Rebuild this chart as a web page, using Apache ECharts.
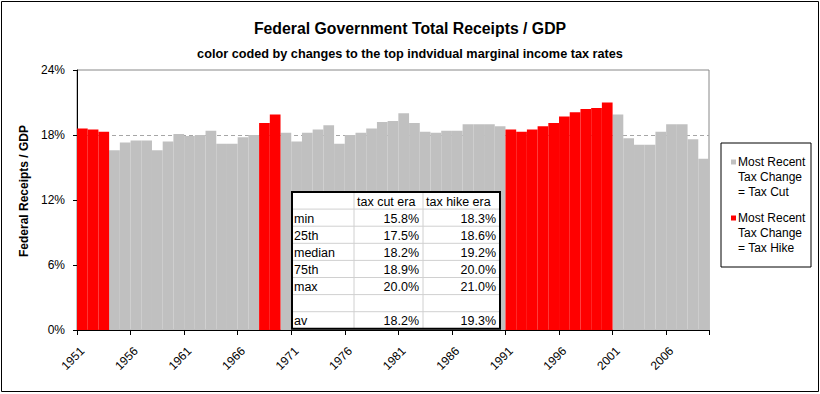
<!DOCTYPE html>
<html><head><meta charset="utf-8">
<script src="https://cdn.jsdelivr.net/npm/echarts@6/dist/echarts.min.js"></script>
<style>html,body{margin:0;padding:0;background:#fff}#c{width:820px;height:394px}</style>
</head><body><div id="c"></div>
<script>
const years = ['1951','1952','1953','1954','1955','1956','1957','1958','1959','1960',
  '1961','1962','1963','1964','1965','1966','1967','1968','1969','1970',
  '1971','1972','1973','1974','1975','1976','1977','1978','1979','1980',
  '1981','1982','1983','1984','1985','1986','1987','1988','1989','1990',
  '1991','1992','1993','1994','1995','1996','1997','1998','1999','2000',
  '2001','2002','2003','2004','2005','2006','2007','2008','2009'];
const receipts = [18.6,18.5,18.3,16.6,17.3,17.5,17.5,16.6,17.4,18.1,
  17.9,18.0,18.4,17.2,17.2,17.8,18.0,19.1,19.9,18.2,
  17.4,18.2,18.5,18.9,17.2,18.0,18.2,18.6,19.2,19.3,
  20.0,19.1,18.3,18.2,18.4,18.4,19.0,19.0,19.0,18.8,
  18.5,18.3,18.5,18.8,19.1,19.7,20.1,20.4,20.5,21.0,
  19.9,17.7,17.1,17.1,18.3,19.0,19.0,17.6,15.8];
// H = most recent tax change was a hike, C = a cut
const era = ['H','H','H','C','C','C','C','C','C','C',
  'C','C','C','C','C','C','C','H','H','C',
  'C','C','C','C','C','C','C','C','C','C',
  'C','C','C','C','C','C','C','C','C','C',
  'H','H','H','H','H','H','H','H','H','H',
  'C','C','C','C','C','C','C','C','C'];
const avgLine = 18;
const yTicks = [0, 6, 12, 18, 24];
const seriesNames = ['Most Recent\nTax Change\n= Tax Cut', 'Most Recent\nTax Change\n= Tax Hike'];
const tableHeader = ['', 'tax cut era', 'tax hike era'];
const tableLabels = ['min', '25th', 'median', '75th', 'max', '', 'av'];
const tableCut = ['15.8%', '17.5%', '18.2%', '18.9%', '20.0%', '', '18.2%'];
const tableHike = ['18.3%', '18.6%', '19.2%', '20.0%', '21.0%', '', '19.3%'];

const RED = '#ff0000', GREY = '#c0c0c0';
const FONT = "'Liberation Sans', Arial, sans-serif";

const chart = echarts.init(document.getElementById('c'), null, {renderer: 'svg'});

const Z = 50;
// table graphic
const tX = 292, tY = 192, colW = [62, 69, 77], rowH = 17.1;
const tW = colW[0] + colW[1] + colW[2], tH = rowH * 8;
const tableEls = [];
tableEls.push({type: 'rect', z: Z, shape: {x: tX, y: tY, width: tW, height: tH}, style: {fill: '#fff'}});
for (let r = 1; r < 8; r++) {
  tableEls.push({type: 'line', z: Z + 1, shape: {x1: tX, y1: tY + r * rowH, x2: tX + tW, y2: tY + r * rowH}, style: {stroke: '#d0d0d0', lineWidth: 1}});
}
tableEls.push({type: 'line', z: Z + 1, shape: {x1: tX + colW[0], y1: tY, x2: tX + colW[0], y2: tY + tH}, style: {stroke: '#d0d0d0', lineWidth: 1}});
tableEls.push({type: 'line', z: Z + 1, shape: {x1: tX + colW[0] + colW[1], y1: tY, x2: tX + colW[0] + colW[1], y2: tY + tH}, style: {stroke: '#d0d0d0', lineWidth: 1}});
const cellFont = {fontFamily: FONT, fontSize: 12.5, fill: '#000', verticalAlign: 'middle'};
function cell(text, x, y, align) {
  return {type: 'text', z: Z + 2, style: Object.assign({text: text, x: x, y: y, align: align}, cellFont)};
}
tableEls.push(cell(tableHeader[1], tX + colW[0] + 3, tY + rowH / 2 + 1, 'left'));
tableEls.push(cell(tableHeader[2], tX + colW[0] + colW[1] + 3, tY + rowH / 2 + 1, 'left'));
tableLabels.forEach((lab, i) => {
  const cy = tY + (i + 1.5) * rowH + 1;
  if (lab) tableEls.push(cell(lab, tX + 2, cy, 'left'));
  if (tableCut[i]) tableEls.push(cell(tableCut[i], tX + colW[0] + colW[1] - 4, cy, 'right'));
  if (tableHike[i]) tableEls.push(cell(tableHike[i], tX + tW - 4, cy, 'right'));
});
tableEls.push({type: 'rect', z: Z + 3, shape: {x: tX, y: tY, width: tW, height: tH}, style: {fill: 'none', stroke: '#000', lineWidth: 2}});

// legend graphic
const lgX = 721, lgY = 143;
const legendEls = [
  {type: 'rect', z: Z, shape: {x: lgX, y: lgY, width: 90, height: 124}, style: {fill: '#fff', stroke: '#000', lineWidth: 1}}
];
[GREY, RED].forEach((col, k) => {
  const baseY = lgY + 19 + k * 56;
  legendEls.push({type: 'rect', z: Z + 1, shape: {x: lgX + 10, y: baseY - 2.5, width: 5, height: 5}, style: {fill: col}});
  legendEls.push({type: 'text', z: Z + 1, style: {text: seriesNames[k], x: lgX + 17, y: baseY - 8, align: 'left', verticalAlign: 'top',
    fontFamily: FONT, fontSize: 12, lineHeight: 15.3, fill: '#000'}});
});

chart.setOption({
  animation: false,
  backgroundColor: '#fff',
  title: [
    {text: 'Federal Government Total Receipts / GDP', left: 'center', top: 15,
      textStyle: {fontFamily: FONT, fontWeight: 'bold', fontSize: 15.8, color: '#000'}},
    {text: 'color coded by changes to the top indvidual marginal income tax rates', left: 'center', top: 42,
      textStyle: {fontFamily: FONT, fontWeight: 'bold', fontSize: 12.7, color: '#000'}}
  ],
  legend: {show: false, data: seriesNames},
  grid: {left: 77, right: 111, top: 70, bottom: 64, show: true, borderColor: '#888', borderWidth: 1, backgroundColor: '#fff'},
  xAxis: {
    type: 'category', data: years, boundaryGap: true,
    axisLine: {lineStyle: {color: '#000', width: 1}},
    axisTick: {show: true, interval: 4, length: 5, inside: false, lineStyle: {color: '#000'}},
    axisLabel: {interval: 4, rotate: 45, margin: 19, fontFamily: FONT, fontSize: 12, color: '#000'},
    splitLine: {show: false}
  },
  yAxis: {
    type: 'value', min: yTicks[0], max: yTicks[yTicks.length - 1], interval: 6,
    name: 'Federal Receipts / GDP', nameLocation: 'middle', nameGap: 46, nameRotate: 90,
    nameTextStyle: {fontFamily: FONT, fontWeight: 'bold', fontSize: 12, color: '#000', padding: [0, 0, 0, 18]},
    axisLine: {show: true, lineStyle: {color: '#000', width: 1}},
    axisTick: {show: true, length: 4, lineStyle: {color: '#000'}},
    axisLabel: {formatter: '{value}%', fontFamily: FONT, fontSize: 12, color: '#000', margin: 12},
    splitLine: {show: false}
  },
  series: [
    {name: seriesNames[0], type: 'bar', barGap: '-100%', barCategoryGap: '0%', z: 3,
      itemStyle: {color: GREY},
      data: receipts.map((v, i) => era[i] === 'C' ? v : '-'),
      markLine: {silent: true, symbol: 'none', z: 1, label: {show: false},
        lineStyle: {type: [4, 3], color: '#a6a6a6', width: 1},
        data: [{yAxis: avgLine}]}
    },
    {name: seriesNames[1], type: 'bar', barGap: '-100%', barCategoryGap: '0%', z: 3,
      itemStyle: {color: RED},
      data: receipts.map((v, i) => era[i] === 'H' ? v : '-')
    }
  ],
  graphic: [
    {type: 'group', children: tableEls},
    {type: 'group', children: legendEls},
    {type: 'rect', z: Z + 10, shape: {x: 1.5, y: 1.5, width: 817, height: 390}, style: {fill: 'none', stroke: '#000', lineWidth: 1}}
  ]
});
</script>
</body></html>
